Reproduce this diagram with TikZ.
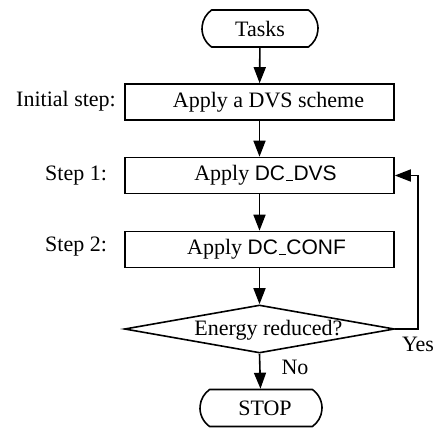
\documentclass[tikz,border=0pt]{standalone}
\usepackage{fontspec}
\setmainfont{Liberation Serif}
\setsansfont{Liberation Sans}
\usetikzlibrary{shapes.misc,shapes.geometric,arrows.meta}
\newcommand{\ulbar}{\kern.06em\vbox{\hrule height.05em width.32em}\kern.02em}
\tikzset{
  base/.style={draw, line width=1.6pt, font=\fontsize{22}{26}\selectfont, inner sep=0pt},
  term/.style={base, rounded rectangle, rounded rectangle arc length=110, minimum height=37pt},
  procbox/.style={base, rectangle, minimum width=269pt, minimum height=36pt},
  decision/.style={base, diamond, aspect=5.6, minimum width=270pt, minimum height=48pt},
  lbl/.style={font=\fontsize{22}{26}\selectfont, inner sep=0pt},
  arr/.style={line width=1.6pt, -{Triangle[length=16pt,width=12pt]}}
}
\begin{document}
\begin{tikzpicture}[x=1pt,y=-1pt]
\useasboundingbox (0,0) rectangle (435,427);
\node[term, minimum width=116pt] (tasks) at (260,28.5) {Tasks};
\node[procbox] (b1) at (259.5,102) {\hspace*{18pt}Apply a DVS scheme};
\node[procbox] (b2) at (259.5,175.5) {\hspace*{12pt}Apply {\sffamily\fontsize{21}{24}\selectfont DC\ulbar DVS}};
\node[procbox] (b3) at (259.5,249.5) {\hspace*{14pt}Apply {\sffamily\fontsize{21}{24}\selectfont DC\ulbar CONF}};
\node[decision] (dec) at (259.5,329) {};
\node[lbl] (dectext) at (268.5,330) {Energy reduced?};
\node[term, minimum width=122pt] (stop) at (261,408) {\hspace*{8pt}STOP};
\node[lbl, anchor=west] (l0) at (16,101) {Initial step:};
\node[lbl, anchor=west] (l1) at (45,176) {Step 1:};
\node[lbl, anchor=west] (l2) at (45,247) {Step 2:};
\node[lbl] (yes) at (418,344) {Yes};
\node[lbl] (no) at (295,367) {No};
\coordinate (fb) at (418,329);
\draw[arr] (tasks) -- (b1);
\draw[arr] (b1) -- (b2);
\draw[arr] (b2) -- (b3);
\draw[arr] (b3) -- (dec.north);
\draw[arr] (dec.south) -- (stop);
\draw[arr] (dec.east) -- (fb) |- (b2.east);
\end{tikzpicture}
\end{document}
